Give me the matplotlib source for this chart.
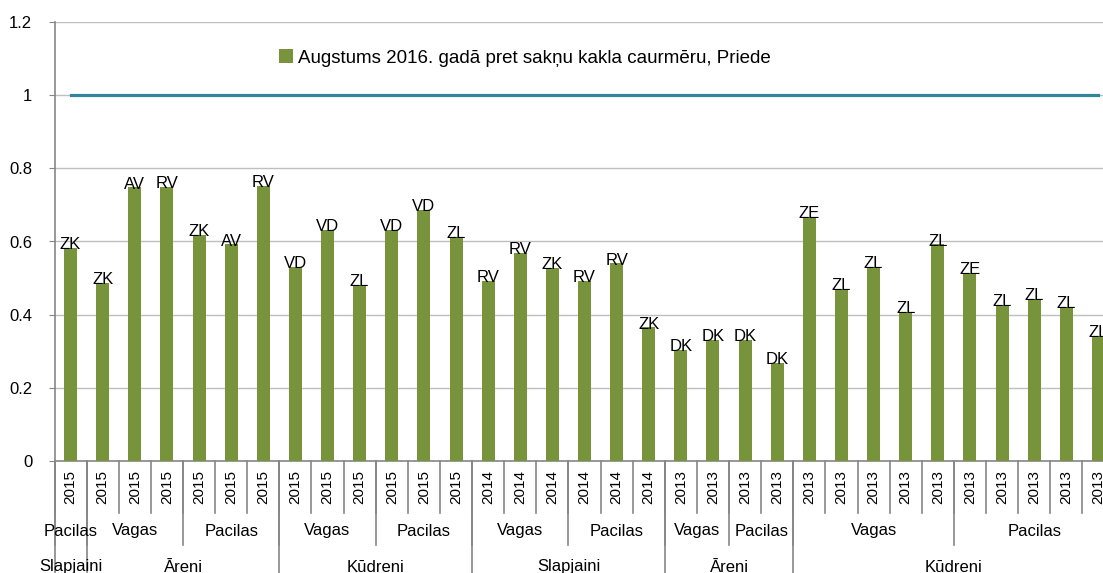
import numpy as np
import matplotlib
matplotlib.use("Agg")
import matplotlib.pyplot as plt

plt.rcParams['font.family'] = ['Liberation Sans', 'DejaVu Sans']

# data
values = [0.582, 0.487, 0.748, 0.749, 0.618, 0.592, 0.752,
          0.530, 0.631, 0.481, 0.631, 0.686, 0.612,
          0.492, 0.568, 0.528, 0.492, 0.540, 0.365,
          0.303, 0.331, 0.331, 0.267,
          0.667, 0.470, 0.530, 0.408, 0.592,
          0.515, 0.426, 0.443, 0.422, 0.342]
labels = ['ZK', 'ZK', 'AV', 'RV', 'ZK', 'AV', 'RV',
          'VD', 'VD', 'ZL', 'VD', 'VD', 'ZL',
          'RV', 'RV', 'ZK', 'RV', 'RV', 'ZK',
          'DK', 'DK', 'DK', 'DK',
          'ZE', 'ZL', 'ZL', 'ZL', 'ZL',
          'ZE', 'ZL', 'ZL', 'ZL', 'ZL']
years = ['2015'] * 13 + ['2014'] * 6 + ['2013'] * 14
# (name, number of bars)
level2 = [('Pacilas', 1), ('Vagas', 3), ('Pacilas', 3),
          ('Vagas', 3), ('Pacilas', 3),
          ('Vagas', 3), ('Pacilas', 3),
          ('Vagas', 2), ('Pacilas', 2),
          ('Vagas', 5), ('Pacilas', 5)]
level3 = [('Slapjaini', 1), ('Āreni', 6), ('Kūdreni', 6),
          ('Slapjaini', 6), ('Āreni', 4), ('Kūdreni', 10)]
reference = [1.0] * len(values)
legend_label = 'Augstums 2016. gadā pret sakņu kakla caurmēru, Priede'

bar_color = '#77933C'
line_color = '#31859C'
grid_color = '#BEBEBE'
axis_color = '#868686'

fig = plt.figure(figsize=(11.03, 5.73), dpi=100)
ax = fig.add_axes([54.5 / 1103, 112 / 573, 1060 / 1103, 439 / 573])

x = np.arange(len(values))
bars = ax.bar(x, values, width=0.405, color=bar_color, zorder=3,
              label=legend_label)
ax.plot(x, reference, color=line_color, lw=2.3, zorder=4)

for xi, v, lab in zip(x, values, labels):
    ax.annotate(lab, (xi, v), xytext=(0, -3), textcoords='offset points',
                ha='center', va='bottom', fontsize=12, zorder=5)

ax.set_xlim(-0.5, len(values) - 0.5)
ax.set_ylim(0, 1.2)
ax.set_yticks(np.arange(0, 1.21, 0.2))
ax.set_yticklabels(['0', '0.2', '0.4', '0.6', '0.8', '1', '1.2'], fontsize=12)
ax.yaxis.grid(True, color=grid_color, lw=1, zorder=0)
ax.tick_params(axis='y', length=4, color=axis_color, pad=12)
ax.set_xticks([])
for s in ['top', 'right']:
    ax.spines[s].set_visible(False)
for s in ['left', 'bottom']:
    ax.spines[s].set_color(axis_color)
    ax.spines[s].set_linewidth(1.2)

# multi-level category axis, in axes-fraction y below the plot
trans = ax.get_xaxis_transform()
px = 1 / 439
y_year_end = -52 * px
y_l2_end = -84 * px
y_l3_end = -125 * px

def vline(xpos, ybot):
    ax.plot([xpos, xpos], [0, ybot], transform=trans, color=axis_color,
            lw=1.2, clip_on=False, zorder=1)

for i in range(len(values) + 1):
    vline(i - 0.5, y_year_end)
for xi, yr in zip(x, years):
    ax.text(xi, -26 * px, yr, transform=trans, rotation=90, ha='center',
            va='center', fontsize=11)

start = 0
for name, n in level2:
    vline(start - 0.5, y_l2_end)
    ax.text(start + (n - 1) / 2, -70 * px, name, transform=trans,
            ha='center', va='center', fontsize=12)
    start += n
vline(start - 0.5, y_l2_end)

start = 0
for name, n in level3:
    vline(start - 0.5, y_l3_end)
    ax.text(start + (n - 1) / 2, -106 * px, name, transform=trans,
            ha='center', va='center', fontsize=12)
    start += n

ax.legend(loc='upper center', bbox_to_anchor=(0.444, 0.976), frameon=False,
          fontsize=13.5, handlelength=0.7, handleheight=0.7, handletextpad=0.3)

fig.savefig('out.png', dpi=100)
